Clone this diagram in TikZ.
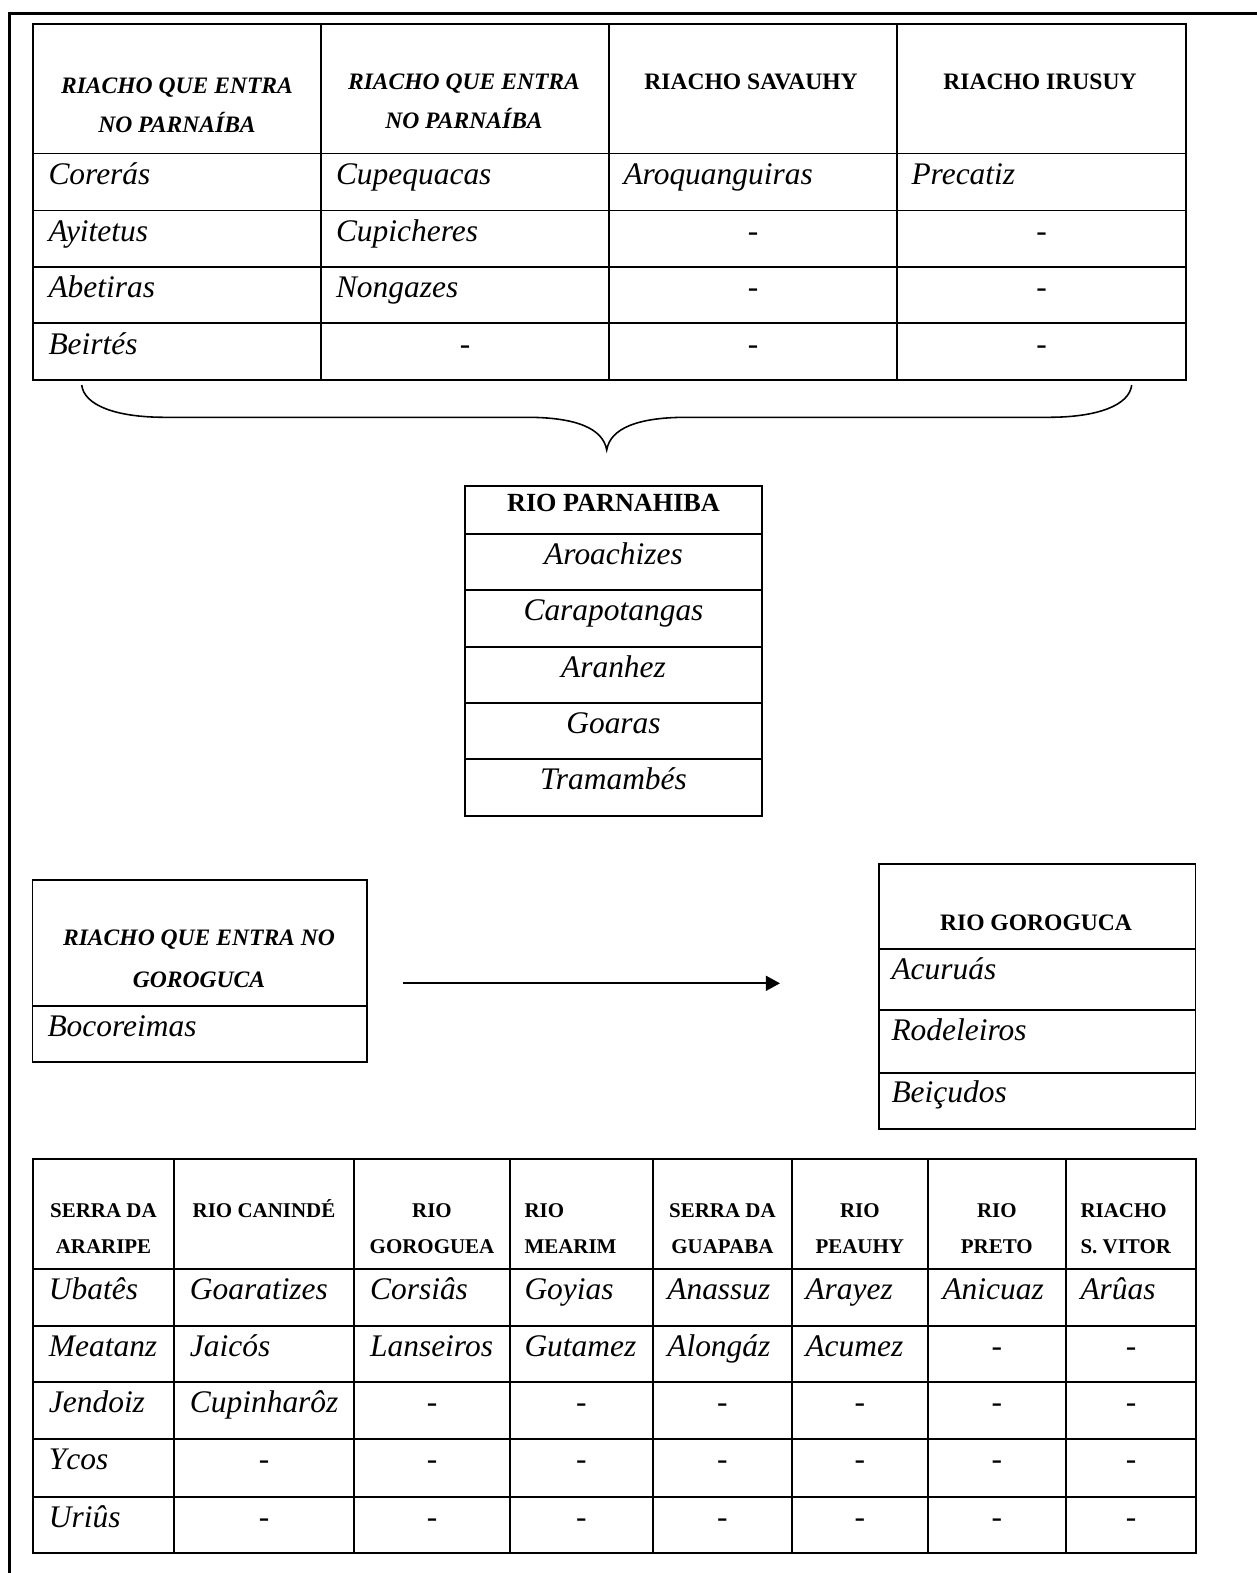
\documentclass[tikz,border=0pt]{standalone}
\usepackage{fontspec}
\setmainfont{Liberation Serif}
\usetikzlibrary{arrows.meta}
\begin{document}
\begin{tikzpicture}[x=0.3817pt,y=-0.3817pt,
  tline/.style={line width=0.75pt},
  frameline/.style={line width=1.1pt},
  braceline/.style={line width=0.6pt},
  body/.style={inner sep=0pt,font=\fontsize{12}{14}\selectfont\itshape},
  hbi/.style={inner sep=0pt,font=\fontsize{9}{11}\selectfont\bfseries\itshape},
  hbnine/.style={inner sep=0pt,font=\fontsize{9}{11}\selectfont\bfseries},
  hbten/.style={inner sep=0pt,font=\fontsize{10}{12}\selectfont\bfseries},
  hbeight/.style={inner sep=0pt,font=\fontsize{8}{10}\selectfont\bfseries}]
\useasboundingbox (0,0) rectangle (1257,1573);

% outer frame (open to the right and bottom)
\draw[frameline] (9.8,1573) -- (9.8,13.3) -- (1257,13.3);

% ---------------- top table ----------------
\draw[tline] (33,24.3) rectangle (1186,379.6);
\foreach \yy in {153.5,210.5,266.7,323.2} \draw[tline] (33,\yy) -- (1186,\yy);
\foreach \xx in {321,609,897} \draw[tline] (\xx,24.3) -- (\xx,379.6);

\node[hbi,anchor=base] (th1a) at (177,93) {RIACHO QUE ENTRA};
\node[hbi,anchor=base] (th1b) at (177,132) {NO PARNAÍBA};
\node[hbi,anchor=base] (th2a) at (464,89.5) {RIACHO QUE ENTRA};
\node[hbi,anchor=base] (th2b) at (464,128.5) {NO PARNAÍBA};
\node[hbnine,anchor=base] (th3) at (751,89.5) {RIACHO SAVAUHY};
\node[hbnine,anchor=base] (th4) at (1040,89.5) {RIACHO IRUSUY};

\foreach \txt/\xx/\yy [count=\k] in {Corerás/48/184.5, Cupequacas/335.5/184.5,
  Aroquanguiras/623/184.5, Precatiz/911/184.5, Ayitetus/48/241.5,
  Cupicheres/335.5/241.5, Abetiras/48/297.7, Nongazes/335.5/297.7, Beirtés/48/354.2}
  \node[body,anchor=base west] (tb\k) at (\xx,\yy) {\txt};
\foreach \xx/\yy [count=\k] in {753/241.5, 1041.5/241.5, 753/297.7, 1041.5/297.7,
  465/354.2, 753/354.2, 1041.5/354.2}
  \node[body,anchor=base] (td\k) at (\xx,\yy) {-};

% ---------------- brace ----------------
\draw[braceline] (81.7,385) .. controls (84,405) and (115,417.3) .. (165,417.3)
  -- (527,417.3) .. controls (575,417.3) and (603,428) .. (606.7,450)
  .. controls (610.4,428) and (638.4,417.3) .. (686.4,417.3)
  -- (1048.4,417.3) .. controls (1098.4,417.3) and (1129.4,405) .. (1131.7,385);

% ---------------- Rio Parnahiba ----------------
\draw[tline] (465,486) rectangle (762,815.7);
\foreach \yy in {534,590,646.7,702.7,759.3} \draw[tline] (465,\yy) -- (762,\yy);
\node[hbten,anchor=base] (ph) at (613.5,511.5) {RIO PARNAHIBA};
\foreach \txt/\yy [count=\k] in {Aroachizes/564.5, Carapotangas/620.5, Aranhez/677.2,
  Goaras/733.2, Tramambés/789.8}
  \node[body,anchor=base] (pb\k) at (613.5,\yy) {\txt};

% ---------------- left box ----------------
\draw[tline] (32.5,880) rectangle (367,1062);
\draw[tline] (32.5,1005.7) -- (367,1005.7);
\node[hbi,anchor=base] (lh1) at (199,945.5) {RIACHO QUE ENTRA NO};
\node[hbi,anchor=base] (lh2) at (199,987) {GOROGUCA};
\node[body,anchor=base west] (lb1) at (47,1036.5) {Bocoreimas};

% arrow
\coordinate (arrS) at (403,983.3);
\coordinate (arrE) at (780,983.3);
\draw[line width=0.75pt,-{Triangle[length=5.4pt,width=5.7pt]}] (arrS) -- (arrE);

% ---------------- right box ----------------
\draw[tline] (879,864) rectangle (1195.5,1128.7);
\foreach \yy in {949,1010,1072.7} \draw[tline] (879,\yy) -- (1195.5,\yy);
\node[hbnine,anchor=base] (rh) at (1036,930) {RIO GOROGUCA};
\foreach \txt/\yy [count=\k] in {Acuruás/979, Rodeleiros/1040, Beiçudos/1102}
  \node[body,anchor=base west] (rb\k) at (891,\yy) {\txt};

% ---------------- bottom table ----------------
\draw[tline] (33,1159) rectangle (1196,1552.5);
\foreach \yy in {1269.3,1325.7,1382.3,1439.3,1496.7} \draw[tline] (33,\yy) -- (1196,\yy);
\foreach \xx in {174,354,510,652.8,792,927.6,1066} \draw[tline] (\xx,1159) -- (\xx,1552.5);

\node[hbeight,anchor=base] (bh1a) at (103.5,1217) {SERRA DA};
\node[hbeight,anchor=base] (bh1b) at (103.5,1253) {ARARIPE};
\node[hbeight,anchor=base] (bh2a) at (264,1217) {RIO CANINDÉ};
\node[hbeight,anchor=base] (bh3a) at (432,1217) {RIO};
\node[hbeight,anchor=base] (bh3b) at (432,1253) {GOROGUEA};
\node[hbeight,anchor=base west] (bh4a) at (524,1217) {RIO};
\node[hbeight,anchor=base west] (bh4b) at (524,1253) {MEARIM};
\node[hbeight,anchor=base] (bh5a) at (722.4,1217) {SERRA DA};
\node[hbeight,anchor=base] (bh5b) at (722.4,1253) {GUAPABA};
\node[hbeight,anchor=base] (bh6a) at (859.8,1217) {RIO};
\node[hbeight,anchor=base] (bh6b) at (859.8,1253) {PEAUHY};
\node[hbeight,anchor=base] (bh7a) at (996.8,1217) {RIO};
\node[hbeight,anchor=base] (bh7b) at (996.8,1253) {PRETO};
\node[hbeight,anchor=base west] (bh8a) at (1080,1217) {RIACHO};
\node[hbeight,anchor=base west] (bh8b) at (1080,1253) {S. VITOR};

% row 1
\foreach \txt/\xx [count=\k] in {Ubatês/48.4, Goaratizes/189.4, Corsiâs/369.6, Goyias/524,
  Anassuz/666.8, Arayez/805, Anicuaz/942, Arûas/1080}
  \node[body,anchor=base west] (ba\k) at (\xx,1299.8) {\txt};
% row 2
\foreach \txt/\xx [count=\k] in {Meatanz/48.4, Jaicós/189.4, Lanseiros/369.6, Gutamez/524,
  Alongáz/666.8, Acumez/805}
  \node[body,anchor=base west] (bb\k) at (\xx,1356.2) {\txt};
\foreach \xx [count=\k] in {996.8,1131}
  \node[body,anchor=base] (bbd\k) at (\xx,1356.2) {-};
% row 3
\node[body,anchor=base west] (bc1) at (48.4,1412.8) {Jendoiz};
\node[body,anchor=base west] (bc2) at (189.4,1412.8) {Cupinharôz};
\foreach \xx [count=\k] in {432,581.4,722.4,859.8,996.8,1131}
  \node[body,anchor=base] (bcd\k) at (\xx,1412.8) {-};
% row 4
\node[body,anchor=base west] (bd1) at (48.4,1469.8) {Ycos};
\foreach \xx [count=\k] in {264,432,581.4,722.4,859.8,996.8,1131}
  \node[body,anchor=base] (bdd\k) at (\xx,1469.8) {-};
% row 5
\node[body,anchor=base west] (be1) at (48.4,1527.2) {Uriûs};
\foreach \xx [count=\k] in {264,432,581.4,722.4,859.8,996.8,1131}
  \node[body,anchor=base] (bed\k) at (\xx,1527.2) {-};
\end{tikzpicture}
\end{document}
